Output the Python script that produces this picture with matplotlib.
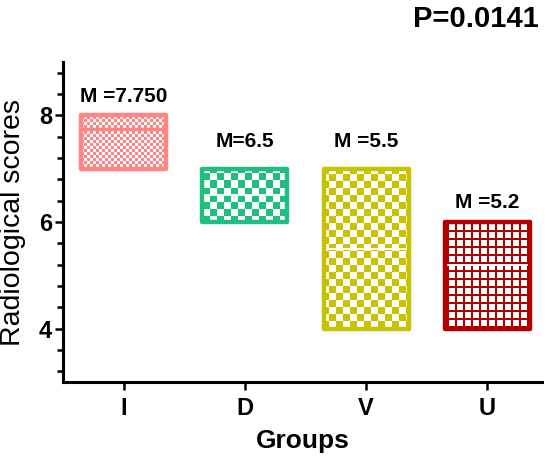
import numpy as np
import matplotlib
matplotlib.use("Agg")
import matplotlib.pyplot as plt
from matplotlib.ticker import MultipleLocator

# ---- data ----
groups = ["I", "D", "V", "U"]
mins = [7.0, 6.0, 4.0, 4.0]
maxs = [8.0, 7.0, 7.0, 6.0]
medians = [7.75, 6.5, 5.5, 5.2]
median_labels = ["M =7.750", "M=6.5", "M =5.5", "M =5.2"]
p_text = "P=0.0141"
y_ticks = [4, 6, 8]
y_label = "Radiological scores"
x_label = "Groups"

# ---- styles ----
colors = ["#FF8484", "#1FBF80", "#C8C200", "#B20000"]
median_colors = ["#FF8484", "white", "white", "white"]
patterns = [("checker", 3), ("checker", 7), ("checker", 7), ("grid", 8)]
label_offsets = [0.25, 0.41, 0.41, 0.26]

plt.rcParams['font.family'] = ['Liberation Sans', 'DejaVu Sans']

W, H, DPI = 546, 461, 100
fig = plt.figure(figsize=(W / DPI, H / DPI), dpi=DPI)
left_px, right_px, top_px, bottom_px = 63, 542, 62, 382
ax = fig.add_axes([left_px / W, 1 - bottom_px / H,
                   (right_px - left_px) / W, (bottom_px - top_px) / H])
xlim = (-0.5, 3.45)
ylim = (3, 9)
ax.set_xlim(*xlim)
ax.set_ylim(*ylim)

x = np.arange(len(groups))
width = 0.7
bars = ax.bar(x, np.array(maxs) - np.array(mins), bottom=mins, width=width,
              facecolor='none', edgecolor=colors, linewidth=3.2, zorder=4)
for b in bars:
    b.set_joinstyle('round')

# texture images in pixel space
ph, pw = bottom_px - top_px, right_px - left_px
ii, jj = np.mgrid[0:ph, 0:pw]
for i, (b, col) in enumerate(zip(bars, colors)):
    kind, c = patterns[i]
    if kind == "checker":
        mask = ((ii // c) + (jj // c)) % 2 == 0
    else:
        mask = ((ii % c) < 2) | ((jj % c) < 2)
    rgb = np.array(matplotlib.colors.to_rgb(col))
    img = np.ones((ph, pw, 3))
    img[mask] = rgb
    im = ax.imshow(img, extent=(xlim[0], xlim[1], ylim[0], ylim[1]),
                   origin='upper', aspect='auto', interpolation='nearest',
                   zorder=2)
    im.set_clip_path(b)
    lw = 2.4 if median_colors[i] != "white" else 1.4
    ax.hlines(medians[i], x[i] - width / 2, x[i] + width / 2,
              colors=median_colors[i], linewidth=lw, zorder=3)
    ax.text(x[i], maxs[i] + label_offsets[i], median_labels[i],
            ha='center', va='baseline', fontsize=15, fontweight='bold')

for s in ['top', 'right']:
    ax.spines[s].set_visible(False)
for s in ['left', 'bottom']:
    ax.spines[s].set_linewidth(2.2)

ax.set_xticks(x)
ax.set_xticklabels(groups, fontsize=17, fontweight='bold')
ax.set_yticks(y_ticks)
ax.set_yticklabels([str(t) for t in y_ticks], fontsize=17, fontweight='bold')
ax.yaxis.set_minor_locator(MultipleLocator(0.4))
ax.tick_params(axis='both', which='major', direction='out', length=6, width=1.8)
ax.tick_params(axis='y', which='minor', direction='out', length=4.5, width=1.8)
ax.tick_params(axis='x', which='major', pad=5)
ax.tick_params(axis='y', which='major', pad=2)

ax.set_xlabel(x_label, fontsize=19, fontweight='bold', labelpad=6)
ax.set_ylabel(y_label, fontsize=20.5)
ax.yaxis.set_label_coords(-0.078, 0.5)

fig.text(539 / W, 1 - 27 / H, p_text, ha='right', va='baseline',
         fontsize=21, fontweight='bold')

fig.savefig("out.png", dpi=DPI)
